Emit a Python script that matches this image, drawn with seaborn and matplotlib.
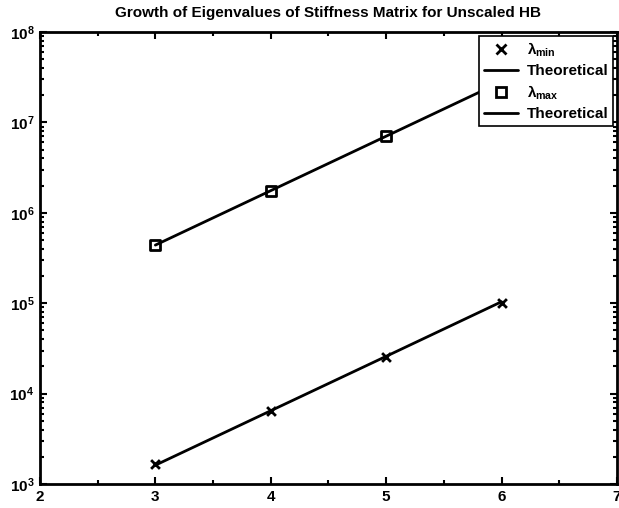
import matplotlib
matplotlib.use("Agg")
import matplotlib.pyplot as plt
from matplotlib.lines import Line2D
from matplotlib.ticker import MultipleLocator, LogLocator, NullFormatter
import seaborn as sns
import pandas as pd

# Refinement levels and measured extreme eigenvalues
levels = [3, 4, 5, 6]
lambda_min = [1.65e3, 6.5e3, 2.55e4, 1.0e5]
lambda_max = [4.4e5, 1.76e6, 7.1e6, 2.8e7]
# Theoretical growth curves (factor 4 per level)
theory_min = [1.62e3, 6.48e3, 2.59e4, 1.04e5]
theory_max = [4.4e5, 1.76e6, 7.04e6, 2.82e7]

sns.set_style("ticks", {"axes.edgecolor": "black", "text.color": "black",
                        "xtick.color": "black", "ytick.color": "black",
                        "axes.labelcolor": "black"})
plt.rcParams["font.family"] = ["Liberation Sans", "DejaVu Sans"]
plt.rcParams["font.weight"] = "bold"
plt.rcParams["mathtext.fontset"] = "custom"
plt.rcParams["mathtext.rm"] = "Liberation Sans:bold"
plt.rcParams["mathtext.it"] = "Liberation Sans:bold"
plt.rcParams["mathtext.bf"] = "Liberation Sans:bold"

df = pd.DataFrame({
    "level": levels * 2,
    "value": lambda_min + lambda_max,
    "theory": theory_min + theory_max,
    "series": ["min"] * 4 + ["max"] * 4,
})

fig = plt.figure(figsize=(6.19, 5.08), dpi=100)
ax = fig.add_axes([0.0646, 0.047, 0.932, 0.890])

# Theoretical lines
sns.lineplot(data=df, x="level", y="theory", units="series", estimator=None,
             color="black", linewidth=2, ax=ax, legend=False)
# Measured eigenvalues
dmin = df[df.series == "min"]
dmax = df[df.series == "max"]
sns.scatterplot(data=dmin, x="level", y="value", marker="x", s=40,
                color="black", linewidth=2, ax=ax, legend=False, zorder=3)
sns.scatterplot(data=dmax, x="level", y="value", marker="s", s=50,
                facecolor="none", edgecolor="black", linewidth=2, ax=ax,
                legend=False, zorder=3)

ax.set_yscale("log")
ax.set_xlim(2, 7)
ax.set_ylim(1e3, 1e8)
ax.set_xlabel("")
ax.set_ylabel("")
ax.xaxis.set_major_locator(MultipleLocator(1))
ax.xaxis.set_minor_locator(MultipleLocator(0.5))
ax.yaxis.set_major_locator(LogLocator(base=10, numticks=10))
ax.yaxis.set_minor_locator(LogLocator(base=10, subs=range(2, 10), numticks=20))
ax.yaxis.set_minor_formatter(NullFormatter())
ax.tick_params(which="both", direction="in", top=True, right=True,
               labelsize=11, width=1.5, pad=4, colors="black")
ax.tick_params(which="major", length=5)
ax.tick_params(which="minor", length=3)
for lab in ax.get_xticklabels() + ax.get_yticklabels():
    lab.set_fontweight("bold")
for sp in ax.spines.values():
    sp.set_linewidth(2)
    sp.set_color("black")
    sp.set_visible(True)

ax.set_title("Growth of Eigenvalues of Stiffness Matrix for Unscaled HB",
             fontsize=11, fontweight="bold", pad=11, color="black")

handles = [
    Line2D([], [], color="black", marker="x", linestyle="none",
           markersize=7, markeredgewidth=2),
    Line2D([], [], color="black", linewidth=2),
    Line2D([], [], color="black", marker="s", linestyle="none",
           markersize=7, markerfacecolor="none", markeredgewidth=2),
    Line2D([], [], color="black", linewidth=2),
]
labels = [r"$\lambda_{\mathrm{min}}$", "Theoretical",
          r"$\lambda_{\mathrm{max}}$", "Theoretical"]
leg = ax.legend(handles, labels, loc="upper right", fontsize=11,
                frameon=True, fancybox=False, framealpha=1,
                edgecolor="black", handlelength=2.2, handletextpad=0.6,
                borderpad=0.3, labelspacing=0.35, borderaxespad=0.25)
leg.get_frame().set_linewidth(1.2)
for t in leg.get_texts():
    t.set_fontweight("bold")
    t.set_color("black")

fig.savefig("out.png", dpi=100)
